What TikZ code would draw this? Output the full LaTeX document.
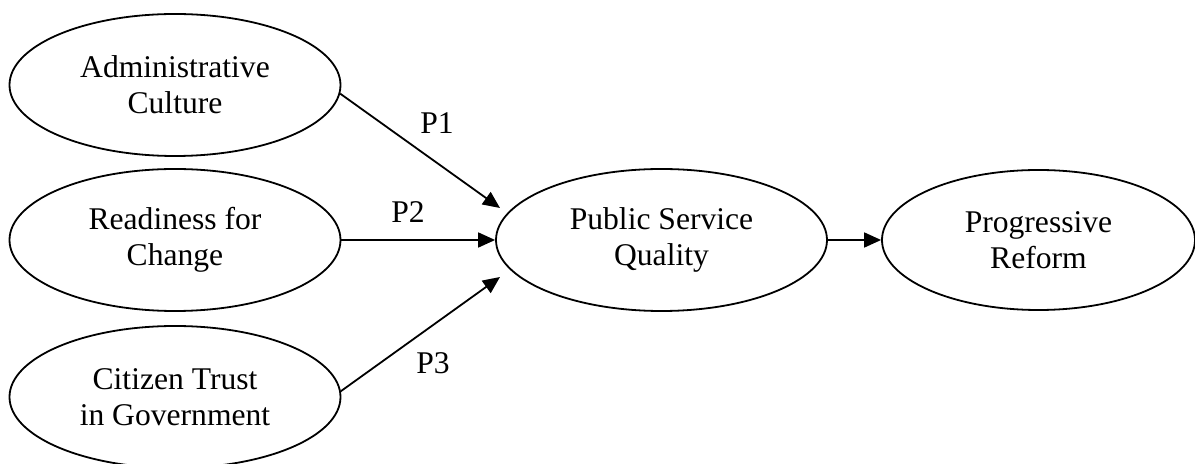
\documentclass[tikz,border=0pt]{standalone}
\usepackage{fontspec}
\setmainfont{Liberation Serif}
\usetikzlibrary{arrows.meta,shapes.geometric}

\begin{document}
\begin{tikzpicture}[
  x=0.5pt, y=-0.5pt,
  construct/.style={ellipse, draw, line width=0.9pt, inner sep=0pt,
    minimum width=165.5pt, minimum height=71pt, align=center,
    font=\fontsize{15.8}{18}\selectfont},
  plabel/.style={inner sep=0pt, font=\fontsize{15.8}{18}\selectfont},
  link/.style={line width=0.9pt, -{Triangle[length=8.5pt,width=7.5pt]}}
]
\useasboundingbox (0,0) rectangle (1195,464);

% antecedents
\node[construct] (admin)   at (175,85)  {Administrative\\Culture};
\node[construct] (ready)   at (175,240) {Readiness for\\Change};
\node[construct] (citizen) at (175,397) {Citizen Trust\\in Government};

% mediator and outcome
\node[construct] (psq) at (661.5,240) {Public Service\\Quality};
\node[construct, minimum width=156.5pt, minimum height=70pt] (pr) at (1038.5,240) {Progressive\\Reform};

% arrow tips for the diagonal paths
\coordinate (tip1) at (500,208);
\coordinate (tip3) at (500,277);

% propositions
\draw[link] (admin.-3) -- (tip1);
\draw[link] (ready.east) -- (psq.west);
\draw[link] (citizen.2) -- (tip3);
\draw[link] (psq.east) -- (pr.west);

\node[plabel] (p1) at (437,123) {P1};
\node[plabel] (p2) at (408,212) {P2};
\node[plabel] (p3) at (433,363) {P3};
\end{tikzpicture}
\end{document}
